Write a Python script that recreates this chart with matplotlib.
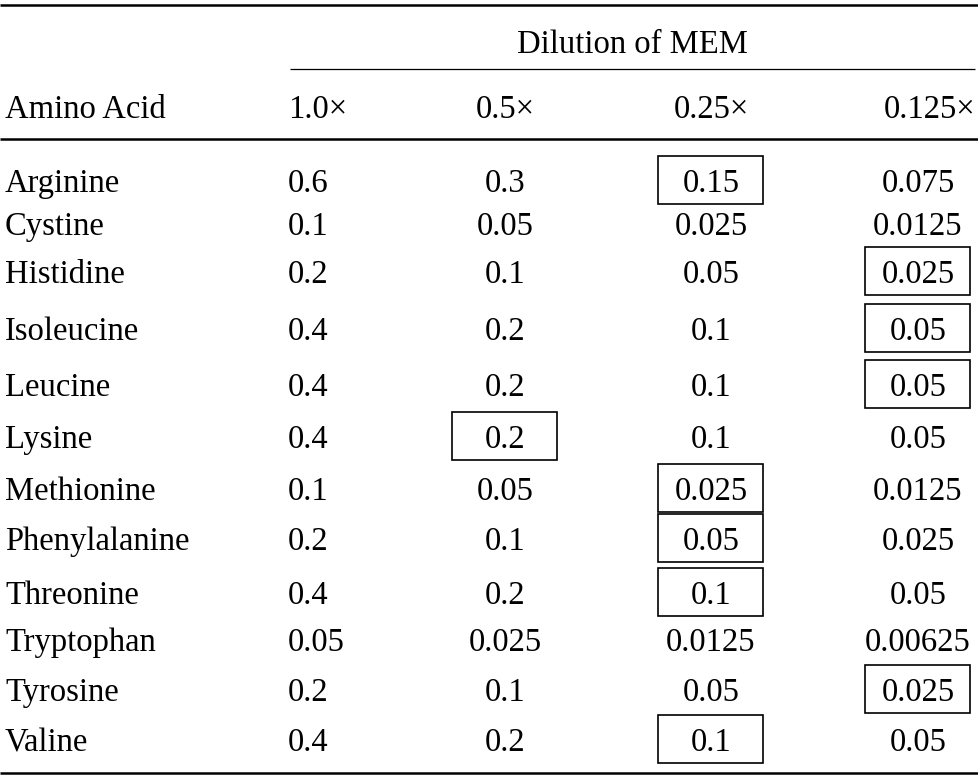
import matplotlib
matplotlib.use("Agg")
import matplotlib.pyplot as plt
from matplotlib.patches import Rectangle

plt.rcParams['font.family'] = ['Liberation Serif', 'DejaVu Serif']

group_header = "Dilution of MEM"
row_header = "Amino Acid"
dilutions = ["1.0×", "0.5×", "0.25×", "0.125×"]
amino_acids = ["Arginine", "Cystine", "Histidine", "Isoleucine", "Leucine", "Lysine",
               "Methionine", "Phenylalanine", "Threonine", "Tryptophan", "Tyrosine", "Valine"]
col_1x = [0.6, 0.1, 0.2, 0.4, 0.4, 0.4, 0.1, 0.2, 0.4, 0.05, 0.2, 0.4]
col_05x = [0.3, 0.05, 0.1, 0.2, 0.2, 0.2, 0.05, 0.1, 0.2, 0.025, 0.1, 0.2]
col_025x = [0.15, 0.025, 0.05, 0.1, 0.1, 0.1, 0.025, 0.05, 0.1, 0.0125, 0.05, 0.1]
col_0125x = [0.075, 0.0125, 0.025, 0.05, 0.05, 0.05, 0.0125, 0.025, 0.05, 0.00625, 0.025, 0.05]
# boxed cells: (row index, column index)
boxed = [(0, 2), (2, 3), (3, 3), (4, 3), (5, 1), (6, 2), (7, 2), (8, 2), (10, 3), (11, 2)]

columns = [col_1x, col_05x, col_025x, col_0125x]

W, H = 979, 780
fig = plt.figure(figsize=(W / 100, H / 100), dpi=100)
ax = fig.add_axes([0, 0, 1, 1])
ax.set_xlim(0, W)
ax.set_ylim(H, 0)
ax.axis('off')

fs = 23.5
dy = 3
row_y = [181, 224, 272, 329, 385, 437, 489, 539, 593, 640, 690, 740]
col_x = [288, 505, 711, 918]
col_ha = ['left', 'center', 'center', 'center']
header_y = 107

# rules
ax.plot([0, W], [5, 5], color='black', lw=1.8, solid_capstyle='butt')
ax.plot([290, 975], [69, 69], color='black', lw=0.9, solid_capstyle='butt')
ax.plot([0, W], [139, 139], color='black', lw=1.8, solid_capstyle='butt')
ax.plot([0, W], [773, 773], color='black', lw=1.8, solid_capstyle='butt')

ax.text(632, 42 + dy, group_header, fontsize=fs, ha='center', va='center')
ax.text(5, header_y + dy, row_header, fontsize=fs, ha='left', va='center')
for j, lab in enumerate(dilutions):
    x = col_x[j]
    ha = col_ha[j]
    if j == 3:
        x, ha = 975, 'right'
    ax.text(x, header_y + dy, lab, fontsize=fs, ha=ha, va='center')

for i, name in enumerate(amino_acids):
    y = row_y[i] + dy
    ax.text(5, y, name, fontsize=fs, ha='left', va='center')
    for j, col in enumerate(columns):
        ax.text(col_x[j], y, f"{col[i]:g}", fontsize=fs, ha=col_ha[j], va='center')

box_w, box_h = 105, 48
for (i, j) in boxed:
    cx = col_x[j]
    cy = row_y[i] - 1
    ax.add_patch(Rectangle((cx - box_w / 2, cy - box_h / 2), box_w, box_h,
                           fill=False, edgecolor='black', lw=1.2))

fig.savefig("out.png", dpi=100)
